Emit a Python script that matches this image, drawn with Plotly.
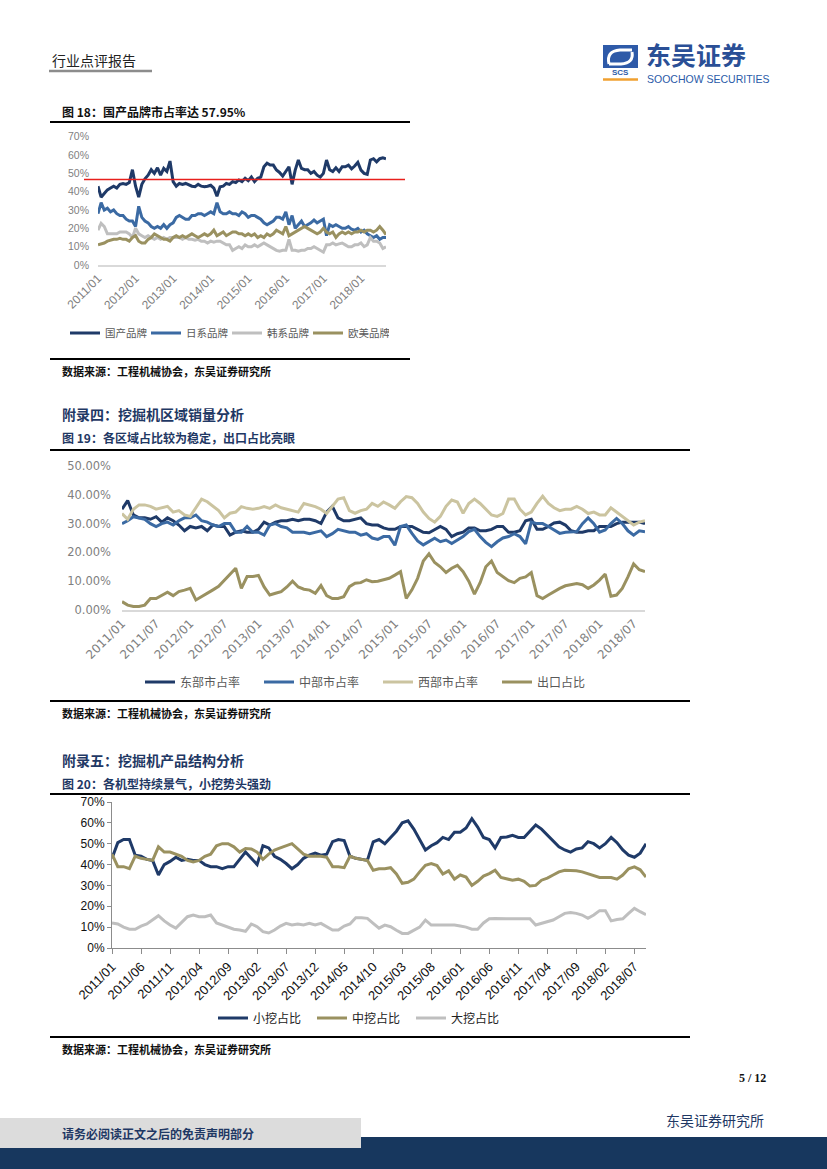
import plotly.graph_objects as go

W, H = 827, 1169
def px(x): return x / W
def py(y): return 1 - y / H

idx = list(range(93))

# ---------------- Chart 18: brand shares ----------------
c1_ticks = [0, 12, 24, 36, 48, 60, 72, 84]
c1_ticktext = ["2011/01", "2012/01", "2013/01", "2014/01", "2015/01", "2016/01", "2017/01", "2018/01"]
domestic = [43,37,39,41,42,43,42,44,44.5,44, 45,52,43,37,44,47,49,52,50,53,
            49,52.7,51,56.7,45.5,43,44.5,44,44.5,43.6, 43,42.7,44,43,42.7,43,43.5,42,37.5,42.7,
            43,44.5,44,45.5,45,46.4,45.5,47.3,46,48, 45.5,47.3,48,53.6,55.5,54.5,54.5,51.8,50.5,48.5,
            51,53.6,44,51.8,57.3,52.7,52,52,50,51, 49,48,50,57.3,52,51,53,51,53.6,53.6,
            54.5,52.5,54,56,51.8,50,49.5,57.3,58,56.3, 58,58.5,57.95]
japanese = [28,34,30,31,29,30,28,27,27,25, 24,24,21,32,26,24,23,21,20,21,
            20,22,20,22,23,26,27,26,25,25, 27,27,28,28,27,28,29,28,34,29,
            28,28,29,28,28,27,29,28,26, 27,27,26,25,23,22,23,24,26,26,
            25,29,22,27,20,22,24,21,22,23, 24.5,23,24,25,16,22,21,22,21,20,
            20,21,19.5,19,20,18,19,17,16,15, 16,14,15,15]
korean = [19,22.7,21,17,17,17,17,18,18,18, 17,15,20,17,16,15,16,15,14,15,
          14,15,14,15,15,15,15,14,15,14, 14,13.5,14,13,13,12,13,12.5,13,13,
          12,11,11,8,9,10,9,11,10, 10,11,10,11,12,11,10,9,8,7.5,
          8,8,14,8,8,7.5,8,8,9,9, 10,9,8,7,11,11,12,11,11.5,12,
          11,10,10,11,11,12,10,11,15,13, 13,12,9,10]
western = [11,11.5,12,13,13.5,14,14,14.5,14,14, 13,15,16,13,12,12,14,15,17,16,
           15,14,14,13,15,16,15,16,15,16, 17,16,15,16,17,16,17,19,16,17,
           18,16,17,18,18,17,17,16,17,16, 17,15,16,15,17,16,17,19,18,17,
           21,16,17,18,19,20,21,20,19,18, 17,18,20,18,17,18,15,17,18,17,
           18,17,18,18,19,18,19,19,18,19, 21,19,16.5]
red_line_level = 46.7

# ---------------- Chart 19: regional shares ----------------
c2_ticks = list(range(0, 91, 6))
c2_ticktext = ["2011/01","2011/07","2012/01","2012/07","2013/01","2013/07","2014/01","2014/07",
               "2015/01","2015/07","2016/01","2016/07","2017/01","2017/07","2018/01","2018/07"]
east = [35,38,33,32,32,31.5,32.4,30.5,32,31, 29.5,27.5,29,28.5,29,27.5,29.5,29,29,26,
        27,27.5,27,27,28,30.5,29.5,30.5,31,31, 31.5,31,31.5,31.5,31,30,34,36,32,31,
        31,31.5,32,30,29.5,29.5,28.5,28,28,29,29,
        29,28,27,26.8,28,29,28,25.5,26.5,27, 28.5,28.5,27.5,27.5,28,29,29,27,27,27.5,
        31,31.5,28,28,29,30.2,30.5,29.5,27.5,27, 27,27.5,27.5,29,29,29,30,30.5,30.5,30.5,
        30.5,30]
central = [30,31,32.4,32,31.5,30,29,30,30.5,29.5, 31,32,32,33,31,30.5,29.5,29,30,30,
           27,27,29,27,27,26,29.5,30,29,28.5, 27,27,27,26.5,27,27.5,25.5,26.5,28,27.5,
           27,27,26,26.5,25,24.5,25.5,25.5,22.5,29,29.5,
           26.6,24,22.6,23.7,24.9,23.7,24.3,23.1,24.3,25.5, 27.2,28,25.5,23.5,22,23.7,25,25.5,26.5,25.5,
           23,30.5,30,30,29,27.8,26.6,27,27,27.2, 30,32,30,27,27.8,30,31.8,30,27.5,26,
           27.5,27.2]
west = [33.5,31.5,35,36.5,36.5,36,35,35.5,36,34, 34.5,33,32.5,35.5,38.5,37.6,36,34.5,32,33.6,
        34,35.9,35.3,35,35.3,35.9,35.3,36.5,35.5,35, 34.5,34,37,36.5,35.9,35,33.5,36,38.5,39,
        34.5,33.6,34.5,35,37,36,37.5,36.5,35.3,37.6,39.4,
        39,37,34,31.8,30.5,32.5,36,38.2,37.5,33.6, 37,38.5,37,35,33,32.5,33.5,38.5,38.5,35,
        33,34,37,39.5,37,35.5,34.5,35,35,36, 35,33.5,34,33,33,35.5,34,32.5,30.7,29.5,
        30.5,31]
export = [2.9,1.7,1.2,1.2,1.7,4,4,5.2,6.2,5, 6.4,6.9,7.5,3.5,4.6,5.8,7,8.2,10.4,12.5,
          14.5,7.5,11.6,11.6,12,8,5.2,5.8,6.4,8, 10,8,7.2,6.9,5.8,8.5,5,4,4,4.6,
          8.1,9.3,9.5,10.5,9.8,10,10.4,11,12.1,13.3,4,
          7,11,17,19.5,16.5,15,13,14.5,15.5,13.3, 10,5.5,9.5,15,17,13,11.6,10.2,9.5,11,
          11.5,13,5,4,5.2,6.4,7.5,8.4,8.7,9.2, 8.8,7.5,8.7,10.4,12.5,4.8,5.2,7.5,11.5,16,
          14,13.3]

# ---------------- Chart 20: product structure ----------------
c3_ticks = list(range(0, 91, 5))
c3_ticktext = ["2011/01","2011/06","2011/11","2012/04","2012/09","2013/02","2013/07","2013/12",
               "2014/05","2014/10","2015/03","2015/08","2016/01","2016/06","2016/11","2017/04",
               "2017/09","2018/02","2018/07"]
small = [43,50.5,52,52,44.5,44,42.5,42,35,40, 41.5,43.5,42,42.5,42,42,40,39,39,38,
         39,39,42.5,46,43,40,49,48,44,42.5, 40.5,38,40,43,44.5,45.5,44.5,45,51,52,
         51.5,44,43,42.5,42,50.9,52,50,53,56,60,
         61,57,52,47,49,50.5,53,52,55.5,55.5, 57.5,62,58,53,52,48,53,53.2,54,53,
         53,56,59,57,54,51,48.5,47,46,47.5, 48,51,50,48,50,53,50.5,47,44.5,43.5,
         45.5,50]
medium = [45,39,39,38,44,43,42.5,42,48.5,46, 46,45,44,42,41.3,42,44,45,49,50,
          50,48.5,46,47.7,47.5,46,42.5,45,47,48, 49,50,47.5,45,44,44,44,43.5,39,39,
          38.5,44,43,42.5,42,37.3,38,38,38.5,35.5,31,
          31.5,33,36.5,39.7,40.5,39.5,35.5,37,33,35, 34,30,32,34.5,35.7,37.3,33.8,33,32.5,33,
          32,29.7,30,32.5,33.5,35,36.5,37.3,37.3,37, 36.5,35.5,34.5,33.8,33.8,33.8,33,35,38,38.9,
          37.5,34]
large = [12,11.5,10,9,9,10.5,11.5,13.5,15.5,13, 11,9.5,12.5,15,15.8,15,15,15.8,12,11,
         10,9,8.6,8,11.5,10.2,7.8,7.2,8.6,10.5, 11.8,11,11.5,11,11.8,11,11.8,10,8.6,8.6,
         10.5,11.5,14.5,14.5,14.2,11.8,9.5,11,10.2,8.5,7,
         7,8.5,10,13.4,11,11,11,11,11,10.5, 10,9,9,12,14,14.2,14,14,14,14,
         14,14,11,11.8,12.6,13.4,15,16.6,17,16.6, 15.8,14.2,15.8,17.9,17.9,13,13.7,14,16.6,19,
         17.4,16]

NAVY = "#1f3a68"
BLUE = "#3b6aa3"
GREY = "#bfbfbf"
OLIVE = "#9a9160"
TAN = "#cbc4a0"
CJK = "Noto Sans CJK SC"

fig = go.Figure()

def line(x, y, name, color, xa, ya, leg, w=3):
    fig.add_trace(go.Scatter(x=x, y=y, name=name, mode="lines", xaxis=xa, yaxis=ya,
                             legend=leg, line=dict(color=color, width=w), hoverinfo="skip"))

line(idx, domestic, "国产品牌", NAVY, "x", "y", "legend")
line(idx, japanese, "日系品牌", BLUE, "x", "y", "legend")
line(idx, korean, "韩系品牌", GREY, "x", "y", "legend")
line(idx, western, "欧美品牌", OLIVE, "x", "y", "legend")

line(idx, east, "东部市占率", NAVY, "x2", "y2", "legend2")
line(idx, central, "中部市占率", BLUE, "x2", "y2", "legend2")
line(idx, west, "西部市占率", TAN, "x2", "y2", "legend2")
line(idx, export, "出口占比", OLIVE, "x2", "y2", "legend2")

line(idx, small, "小挖占比", NAVY, "x3", "y3", "legend3")
line(idx, medium, "中挖占比", OLIVE, "x3", "y3", "legend3")
line(idx, large, "大挖占比", GREY, "x3", "y3", "legend3")

shapes = []
ann = []

def hline(x0, x1, y, color="#000", w=2):
    shapes.append(dict(type="line", xref="paper", yref="paper", x0=px(x0), x1=px(x1),
                       y0=py(y), y1=py(y), line=dict(color=color, width=w)))

def text(x, y, s, size=12, color="#000", bold=False, anchor="left", family=CJK):
    ann.append(dict(x=px(x), y=py(y), xref="paper", yref="paper", text=("<b>%s</b>" % s) if bold else s,
                    showarrow=False, xanchor=anchor, yanchor="middle",
                    font=dict(size=size, color=color, family=family)))

# header
text(50, 60, "行业点评报告", 14, "#222")
hline(49, 152, 71, "#8c8c8c", 2.5)
shapes.append(dict(type="rect", xref="paper", yref="paper", x0=px(603), x1=px(638), y0=py(68), y1=py(45),
                   fillcolor="#2e5aa8", line=dict(width=0)))
shapes.append(dict(type="path", xref="paper", yref="paper",
                   path="M %f,%f Q %f,%f %f,%f L %f,%f" % (px(609), py(64), px(606), py(51), px(620), py(50),
                                                           px(632), py(50)),
                   line=dict(color="white", width=3)))
shapes.append(dict(type="path", xref="paper", yref="paper",
                   path="M %f,%f L %f,%f Q %f,%f %f,%f" % (px(609), py(64), px(621), py(64), px(634), py(63),
                                                           px(632), py(52)),
                   line=dict(color="white", width=3)))
text(620, 73, "SCS", 8, "#2e5aa8", True, "center", "Liberation Sans")
hline(603, 638, 79.5, "#f0a030", 2.5)
text(644, 54, "东吴证券", 25, "#2a4f96", True)
text(645, 79, "SOOCHOW SECURITIES", 10.5, "#2a5aa8", False, "left", "Liberation Sans")

# chart 18 texts
text(60, 112, "图 18：国产品牌市占率达 57.95%", 12, "#111", True)
hline(50, 410, 122)
hline(50, 410, 359)
text(60, 371, "数据来源：工程机械协会，东吴证券研究所", 11, "#111", True)
shapes.append(dict(type="line", xref="paper", yref="y", x0=px(84), x1=px(405),
                   y0=red_line_level, y1=red_line_level, line=dict(color="#e8201c", width=1.5)))

# chart 19 texts
text(60, 414, "附录四：挖掘机区域销量分析", 14, "#1f3864", True)
text(60, 437, "图 19：各区域占比较为稳定，出口占比亮眼", 12, "#1f3864", True)
hline(50, 690, 450)
hline(50, 690, 701)
text(60, 713, "数据来源：工程机械协会，东吴证券研究所", 11, "#111", True)

# chart 20 texts
text(60, 760, "附录五：挖掘机产品结构分析", 14, "#1f3864", True)
text(60, 783, "图 20：各机型持续景气，小挖势头强劲", 12, "#1f3864", True)
hline(50, 690, 794)
hline(50, 690, 1037)
text(60, 1049, "数据来源：工程机械协会，东吴证券研究所", 11, "#111", True)

# footer
text(768, 1078, "5 / 12", 12, "#111", True, "right", "Liberation Serif")
text(766, 1120, "东吴证券研究所", 14, "#1f3864", False, "right")
shapes.append(dict(type="rect", xref="paper", yref="paper", x0=0, x1=1, y0=0, y1=py(1137),
                   fillcolor="#17375e", line=dict(width=0)))
shapes.append(dict(type="rect", xref="paper", yref="paper", x0=0, x1=px(361), y0=py(1148), y1=py(1118),
                   fillcolor="#dcdcdc", line=dict(width=0)))
text(60, 1133, "请务必阅读正文之后的免责声明部分", 12, "#1f3864", True)

GREYTXT = "#7f7f7f"

fig.update_layout(
    width=W, height=H, margin=dict(l=0, r=0, t=0, b=0, pad=0, autoexpand=False),
    paper_bgcolor="white", plot_bgcolor="white",
    shapes=shapes, annotations=ann,
    xaxis=dict(domain=[px(98), px(386)], range=[0, 92], anchor="y", tickvals=c1_ticks, ticktext=c1_ticktext,
               tickangle=-45, showgrid=False, zeroline=False, showline=True, linecolor="#d9d9d9", linewidth=1.5,
               ticks="", automargin=False, tickfont=dict(size=12, color=GREYTXT, family="Liberation Sans")),
    yaxis=dict(domain=[py(265), py(136.7)], range=[0, 70], anchor="x", tickvals=list(range(0, 71, 10)),
               ticktext=["%d%%" % v for v in range(0, 71, 10)], showgrid=False, zeroline=False, showline=False,
               ticks="", automargin=False, ticklabelstandoff=8,
               tickfont=dict(size=10.5, color=GREYTXT, family="Liberation Sans")),
    xaxis2=dict(domain=[px(122), px(645)], range=[0, 92], anchor="y2", tickvals=c2_ticks, ticktext=c2_ticktext,
                tickangle=-45, showgrid=False, zeroline=False, showline=True, linecolor="#d9d9d9", linewidth=1.5,
                ticks="", automargin=False, tickfont=dict(size=12, color=GREYTXT, family="DejaVu Sans")),
    yaxis2=dict(domain=[py(610), py(466)], range=[0, 50], anchor="x2", tickvals=list(range(0, 51, 10)),
                ticktext=["%.2f%%" % v for v in range(0, 51, 10)], showgrid=False, zeroline=False, showline=False,
                ticks="", automargin=False, ticklabelstandoff=10,
                tickfont=dict(size=11.5, color=GREYTXT, family="DejaVu Sans")),
    xaxis3=dict(domain=[px(112), px(646)], range=[0, 92], anchor="y3", tickvals=c3_ticks, ticktext=c3_ticktext,
                tickangle=-45, showgrid=False, zeroline=False, showline=True, linecolor="#8c8c8c", linewidth=1,
                ticks="outside", ticklen=5, tickcolor="#8c8c8c", automargin=False,
                tickfont=dict(size=13, color="#111", family="Liberation Sans")),
    yaxis3=dict(domain=[py(948), py(802)], range=[0, 70], anchor="x3", tickvals=list(range(0, 71, 10)),
                ticktext=["%d%%" % v for v in range(0, 71, 10)], showgrid=False, zeroline=False, showline=True,
                linecolor="#8c8c8c", linewidth=1, ticks="outside", ticklen=4, tickcolor="#8c8c8c",
                automargin=False, tickfont=dict(size=12, color="#111", family="Liberation Sans")),
    legend=dict(orientation="h", x=px(65), y=py(333), xanchor="left", yanchor="middle",
                entrywidth=36, entrywidthmode="pixels", bgcolor="rgba(0,0,0,0)",
                font=dict(size=10.5, color="#595959", family=CJK)),
    legend2=dict(orientation="h", x=px(140), y=py(682), xanchor="left", yanchor="middle",
                 entrywidth=74, entrywidthmode="pixels", bgcolor="rgba(0,0,0,0)",
                 font=dict(size=12, color="#595959", family=CJK)),
    legend3=dict(orientation="h", x=px(213), y=py(1018), xanchor="left", yanchor="middle",
                 entrywidth=54, entrywidthmode="pixels", bgcolor="rgba(0,0,0,0)",
                 font=dict(size=12, color="#222", family=CJK)),
)

fig.write_html("out.html", config={"displayModeBar": False},
               post_script="document.body.style.margin='0px';document.body.style.overflow='hidden';")
